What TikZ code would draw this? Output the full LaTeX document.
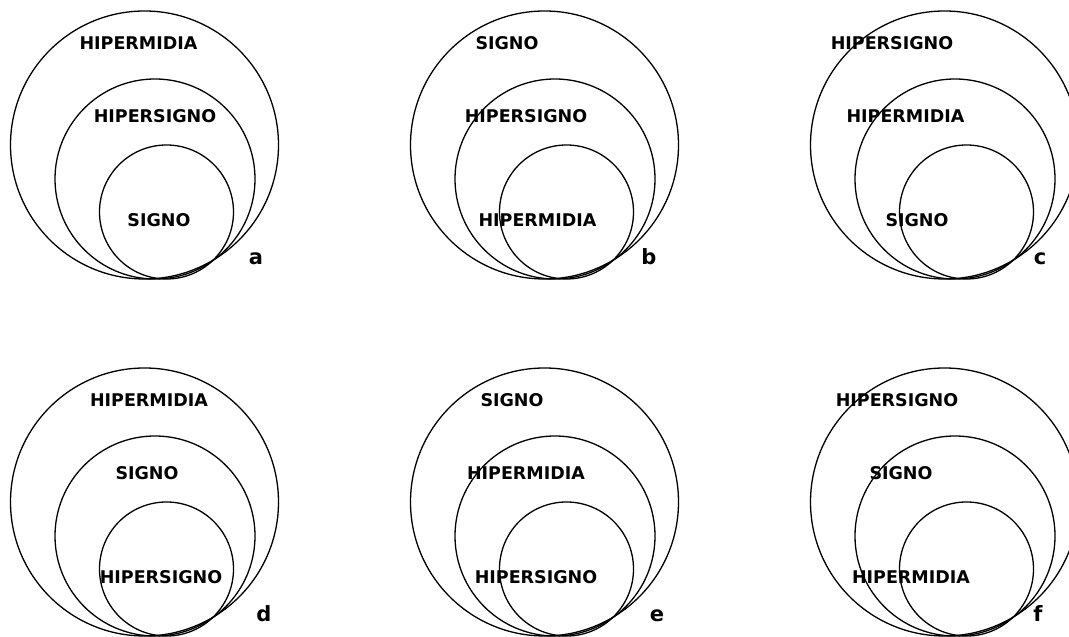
\documentclass[tikz,border=0pt]{standalone}
\usepackage{fontspec}
\setmainfont{DejaVu Sans}
\tikzset{
  ring/.style={line width=1.3pt},
  word/.style={font=\bfseries\fontsize{17.5}{20}\selectfont, inner sep=0pt},
  tag/.style={font=\bfseries\fontsize{21}{24}\selectfont, inner sep=0pt, anchor=base}
}
\begin{document}
\begin{tikzpicture}[x=1pt,y=1pt]
  \useasboundingbox (0,0) rectangle (1069,637);
  % three rings per panel
  \foreach \gx/\gy in {0/0, 400/0, 800/0, 0/-357, 400/-357, 800/-357} {
    \begin{scope}[shift={(\gx,\gy)}]
      \draw[ring] (144.5,492) circle[radius=134];
      \draw[ring] (155,458) circle[radius=100];
      \draw[ring] (166.5,425) circle[radius=67];
    \end{scope}
  }
  % panel a
  \draw
    (138.5,594) node[word] (a1){HIPERMIDIA}
    (155,521) node[word] (a2){HIPERSIGNO}
    (159,417) node[word] (a3){SIGNO}
    (256,372) node[tag] (a){a};
  % panel b
  \draw
    (507,594) node[word] (b1){SIGNO}
    (526,521) node[word] (b2){HIPERSIGNO}
    (537.5,417) node[word] (b3){HIPERMIDIA}
    (649,372) node[tag] (b){b};
  % panel c
  \draw
    (892,594) node[word] (c1){HIPERSIGNO}
    (905.5,521) node[word] (c2){HIPERMIDIA}
    (917,417) node[word] (c3){SIGNO}
    (1040,372) node[tag] (c){c};
  % panel d
  \draw
    (149,237) node[word] (d1){HIPERMIDIA}
    (147,164) node[word] (d2){SIGNO}
    (161,60) node[word] (d3){HIPERSIGNO}
    (264,15) node[tag] (d){d};
  % panel e
  \draw
    (512,237) node[word] (e1){SIGNO}
    (526,164) node[word] (e2){HIPERMIDIA}
    (536,60) node[word] (e3){HIPERSIGNO}
    (657,15) node[tag] (e){e};
  % panel f
  \draw
    (897,237) node[word] (f1){HIPERSIGNO}
    (901,164) node[word] (f2){SIGNO}
    (911,60) node[word] (f3){HIPERMIDIA}
    (1038,15) node[tag] (f){f};
\end{tikzpicture}
\end{document}
